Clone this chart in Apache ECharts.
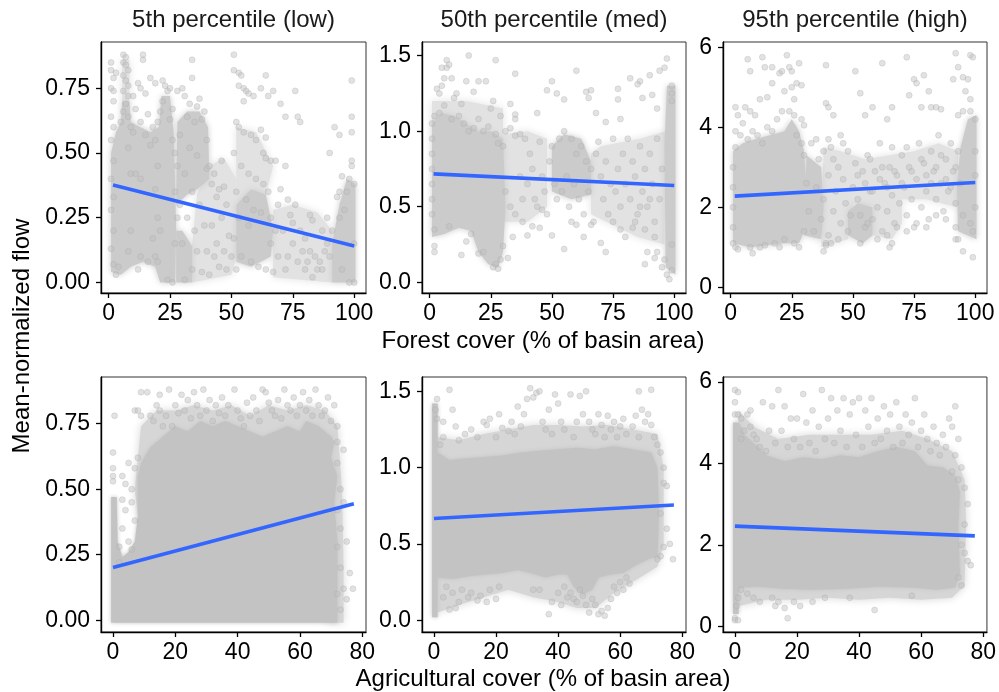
<!DOCTYPE html>
<html><head><meta charset="utf-8">
<script src="https://cdn.jsdelivr.net/npm/echarts@6/dist/echarts.min.js"></script>
<style>html,body{margin:0;padding:0;background:#fff}#c{width:999px;height:692px}</style>
</head><body><div id="c"></div>
<script>
// ---------- labels ----------
const panelTitles = ['5th percentile (low)', '50th percentile (med)', '95th percentile (high)'];
const yTitle = 'Mean-normalized flow';
const xTitleTop = 'Forest cover (% of basin area)';
const xTitleBottom = 'Agricultural cover (% of basin area)';
const xTicksTop = [0, 25, 50, 75, 100];
const xTicksBottom = [0, 20, 40, 60, 80];
const yTicksLow = [0, 0.25, 0.5, 0.75];
const yTicksMed = [0, 0.5, 1.0, 1.5];
const yTicksHigh = [0, 2, 4, 6];

// ---------- fitted lines (endpoints) ----------
const fitF5 = [[1.8, 0.376], [100, 0.141]];
const fitF50 = [[1.6, 0.717], [100, 0.640]];
const fitF95 = [[1.7, 2.28], [100, 2.62]];
const fitA5 = [[0, 0.201], [77.3, 0.444]];
const fitA50 = [[0, 0.667], [77.3, 0.755]];
const fitA95 = [[0, 2.46], [77.3, 2.22]];

// ---------- outlines of the overplotted point clouds (data units) ----------
const f5Dense = [
  [[1,0.04],[5,0.03],[9,0.06],[14,0.08],[19,0.06],[21,0.0],[27,0.0],[27.5,0.2],[27,0.4],[26.5,0.58],[26,0.62],[25,0.72],[21.5,0.72],[20.5,0.6],[17,0.58],[13,0.6],[9,0.62],[8.5,0.7],[5.5,0.7],[5,0.62],[3,0.58],[1,0.5]],
  [[27.5,0.3],[32,0.34],[36,0.36],[41,0.4],[40.5,0.6],[37,0.66],[32,0.66],[28,0.62]],
  [[27.5,0.0],[34,0.0],[34,0.14],[30,0.2],[27.5,0.2]],
  [[52,0.08],[58,0.06],[66,0.1],[67,0.2],[64,0.34],[58,0.36],[52,0.3]],
  [[91,0.0],[100.5,0.0],[100.5,0.38],[97,0.4],[94,0.3],[91,0.15]]
];
const f5Medium = [
  [[34,0.0],[50,0.03],[52,0.1],[52,0.4],[47,0.48],[41,0.45],[36,0.34],[34,0.14]],
  [[67,0.02],[91,0.0],[91,0.2],[85,0.27],[75,0.3],[67,0.28]],
  [[52,0.3],[58,0.36],[64,0.34],[67,0.45],[60,0.58],[52,0.6]],
  [[5.5,0.7],[8.5,0.7],[8.5,0.86],[5.5,0.86]]
];
const f50Dense = [
  [[1,0.3],[6,0.32],[12,0.36],[17,0.34],[20,0.2],[24,0.12],[28,0.1],[30,0.2],[31,0.5],[30,0.95],[25,1.0],[20,1.0],[15,1.05],[10,1.1],[5,1.12],[1,1.05]],
  [[50,0.6],[58,0.55],[66,0.58],[66,0.8],[62,0.95],[55,0.98],[50,0.9]],
  [[96.5,0.1],[100.5,0.05],[100.5,1.3],[97,1.3],[96,0.9]]
];
const f50Medium = [
  [[30,0.4],[40,0.4],[48,0.5],[48,0.95],[40,1.0],[30,0.98]],
  [[66,0.45],[85,0.3],[96,0.25],[96.5,1.0],[86,0.95],[70,0.9],[66,0.85]],
  [[1,1.05],[10,1.1],[20,1.0],[30,0.95],[30,1.15],[15,1.2],[1,1.2]]
];
const f95Dense = [
  [[1,1.1],[8,1.0],[15,1.05],[22,1.1],[28,1.1],[30,1.4],[31,2.5],[30,3.4],[28,3.9],[25,4.2],[22,3.9],[16,3.8],[10,3.7],[5,3.6],[1,3.4]],
  [[30,1.3],[37,1.2],[38,2.0],[37,3.0],[31,3.3]],
  [[48,1.3],[54,1.1],[58,1.3],[58,2.0],[52,2.1],[48,1.9]],
  [[93,1.4],[100.5,1.2],[100.5,4.3],[97,4.2],[94,3.5],[92.5,2.5]]
];
const f95Medium = [
  [[37,1.0],[48,1.2],[50,2.1],[60,2.0],[70,2.2],[80,2.2],[92.5,2.0],[93,3.4],[85,3.6],[75,3.4],[65,3.3],[55,3.2],[45,3.4],[38,3.5]],
  [[58,1.3],[66,1.2],[70,1.6],[70,2.2],[58,2.0]]
];
const a5Dense = [
  [[-0.6,-0.01],[72,-0.01],[72,0.3],[71,0.45],[72,0.55],[70,0.62],[71,0.68],[70,0.7],[66,0.74],[62,0.76],[60,0.72],[56,0.74],[52,0.72],[48,0.7],[44,0.72],[40,0.74],[36,0.76],[32,0.74],[28,0.76],[24,0.72],[20,0.74],[16,0.7],[12,0.66],[9,0.6],[8,0.55],[8,0.4],[7,0.3],[5,0.26],[3,0.24],[1.5,0.3],[1.2,0.47],[-0.6,0.47]]
];
const a5Medium = [
  [[7,0.5],[9,0.74],[14,0.8],[20,0.8],[26,0.82],[32,0.8],[38,0.82],[44,0.78],[50,0.82],[56,0.8],[62,0.82],[68,0.8],[72,0.74],[73.5,0.5],[74,0.2],[74,-0.01],[70,-0.01],[8,0.4]]
];
const a50Dense = [
  [[-0.6,0.02],[1.2,0.02],[1.2,0.28],[6,0.27],[12,0.29],[17,0.3],[22,0.31],[27,0.33],[31,0.31],[36,0.28],[40,0.3],[43,0.3],[45,0.22],[48,0.17],[51,0.2],[53,0.28],[57,0.3],[61,0.31],[65,0.36],[69,0.4],[72,0.42],[72.5,0.7],[72,1.0],[70,1.1],[64,1.12],[58,1.14],[52,1.12],[46,1.13],[40,1.12],[34,1.11],[28,1.1],[22,1.08],[16,1.07],[10,1.06],[5,1.05],[1.2,1.1],[1.2,1.42],[-0.6,1.42]]
];
const a50Medium = [
  [[1.2,0.05],[8,0.1],[16,0.15],[24,0.2],[32,0.15],[40,0.12],[46,0.08],[52,0.08],[58,0.18],[64,0.25],[72,0.35],[74,0.5],[74,1.0],[72,1.22],[64,1.25],[56,1.28],[48,1.27],[40,1.28],[32,1.28],[24,1.25],[16,1.22],[8,1.18],[1.2,1.2]]
];
const a95Dense = [
  [[-0.6,0.3],[1.2,0.3],[1.2,0.95],[8,0.97],[15,0.92],[25,0.9],[36,0.92],[46,0.97],[57,0.95],[65,0.9],[71,0.95],[72.5,1.3],[72,2.5],[72.5,3.3],[71,3.7],[67,3.9],[62,3.95],[58,4.3],[52,4.4],[46,4.3],[40,4.15],[34,4.2],[28,4.1],[22,4.15],[16,4.05],[10,4.2],[6,4.5],[3,4.7],[1.2,5.0],[-0.6,5.0]]
];
const a95Medium = [
  [[1.2,0.5],[10,0.65],[20,0.65],[30,0.7],[40,0.65],[50,0.7],[60,0.65],[70,0.7],[74,1.0],[74.5,2.5],[74,3.6],[70,4.3],[62,4.6],[54,4.8],[44,4.7],[34,4.7],[24,4.7],[14,4.6],[6,4.9],[1.2,5.3]]
];

// ---------- individual points ----------
const f5Pts = [[1,0.85],[1,0.82],[2,0.79],[1,0.75],[2,0.74],[3,0.81],[2,0.7],[1,0.64],[2,0.6],[1,0.55],[2,0.47],[1,0.4],[2,0.33],[1,0.28],[2,0.2],[1,0.13],[2,0.07],[3,0.03],[4,0.06],
[6,0.88],[7,0.87],[6,0.85],[7,0.84],[8,0.82],[6,0.8],[7,0.78],[8,0.76],[6,0.74],[8,0.72],[7,0.69],[6,0.66],[8,0.64],[5,0.62],[9,0.6],[8,0.12],[9,0.2],[9,0.42],[8,0.52],
[10,0.72],[12,0.77],[13,0.75],[14,0.88],[14,0.86],[15,0.73],[17,0.79],[19,0.77],[11,0.67],[16,0.65],[13,0.62],[18,0.6],[10,0.58],[15,0.57],[19,0.55],[12,0.05],[16,0.08],[19,0.1],[13,0.1],[18,0.17],[20,0.25],[19,0.36],[13,0.4],[11,0.42],[17,0.53],
[22,0.78],[23,0.76],[24,0.74],[25,0.75],[22,0.7],[21,0.66],[26,0.67],[20,0.62],[25,0.63],[26,0.55],[27,0.5],[27,0.35],[27,0.15],[20,0.08],[21,0.2],[20,0.45],[24,0.01],[26,0.0],
[28,0.74],[30,0.75],[31,0.72],[33,0.69],[34,0.86],[34,0.79],[36,0.68],[37,0.71],[39,0.66],[38,0.63],[32,0.64],[35,0.62],[40,0.55],[29,0.57],[33,0.52],[36,0.49],[40,0.44],[28,0.45],[31,0.42],[34,0.35],[37,0.3],[29,0.3],[32,0.25],[35,0.2],[39,0.22],[30,0.15],[36,0.12],[34,0.05],[38,0.04],[31,0.01],[40,0.12],[28,0.25],
[41,0.45],[43,0.42],[42,0.38],[45,0.36],[47,0.37],[44,0.33],[48,0.3],[46,0.25],[42,0.22],[49,0.18],[44,0.15],[47,0.12],[43,0.1],[45,0.06],[48,0.05],[41,0.03],[50,0.1],[46,0.47],
[51,0.88],[51,0.82],[53,0.81],[54,0.8],[53,0.76],[55,0.75],[56,0.74],[57,0.73],[55,0.7],[59,0.72],[62,0.75],[64,0.8],[65,0.72],[67,0.74],[70,0.69],[52,0.62],[53,0.6],[55,0.58],[58,0.57],[60,0.55],[62,0.59],[64,0.56],[63,0.5],[64,0.48],[66,0.47],[68,0.47],[51,0.5],[54,0.45],[57,0.42],[60,0.4],[63,0.38],[65,0.35],[52,0.35],[56,0.32],[59,0.28],[62,0.27],[66,0.25],[68,0.2],[53,0.25],[57,0.22],[51,0.17],[54,0.1],[58,0.08],[61,0.06],[64,0.05],[67,0.04],[69,0.1],[52,0.05],[66,0.15],[69,0.3],
[72,0.45],[70,0.36],[73,0.32],[76,0.74],[72,0.64],[77,0.64],[78,0.62],[74,0.26],[75,0.23],[78,0.2],[80,0.17],[82,0.12],[84,0.1],[86,0.08],[88,0.12],[85,0.05],[80,0.05],[77,0.08],[75,0.15],[73,0.1],[72,0.05],[82,0.26],[83,0.24],[87,0.2],[89,0.15],[90,0.5],[92,0.6],[94,0.57],[95,0.41],[94,0.35],[93,0.33],[79,0.12],[81,0.08],[83,0.02],[87,0.05],[90,0.1],[91,0.2],[89,0.25],[76,0.3],[71,0.2],
[99,0.78],[99,0.64],[99,0.58],[99,0.47],[99,0.45],[98,0.4],[100,0.38],[97,0.35],[96,0.28],[94,0.25],[100,0.15],[100,0.0],[98,0.0],[95,0.05]];

const f50Pts = [[3,1.28],[4,1.25],[6,1.35],[7,1.47],[7,1.42],[8,1.44],[9,1.35],[5,1.42],[5,1.3],[10,1.22],[11,1.25],[13,1.18],[15,1.33],[16,1.5],[18,1.26],[20,1.33],[23,1.33],[27,1.47],[26,1.2],[29,1.1],[25,1.15],[33,1.18],[35,1.11],[35,1.08],[35,1.38],[44,1.12],[48,1.27],[50,1.33],[52,1.25],[55,1.21],[60,1.4],[64,1.26],[66,1.27],[65,1.22],[68,1.12],[77,1.28],[77,1.21],[72,1.06],[78,1.08],[82,1.35],[86,1.33],[85,1.31],[87,1.22],[90,1.37],[91,1.24],[93,1.15],[94,1.4],[96,1.42],[97,1.48],[99,1.3],[99,1.25],[99,1.2],
[2,0.2],[2,0.24],[8,0.37],[13,0.18],[15,0.27],[17,0.32],[20,0.19],[22,0.2],[26,0.1],[27,0.12],[28,0.09],[29,0.15],[30,0.24],[32,0.16],[40,0.31],[42,0.37],[45,0.36],[50,0.31],[55,0.22],[60,0.38],[63,0.3],[70,0.26],[72,0.2],[80,0.3],[83,0.36],[88,0.12],[89,0.2],[92,0.16],[93,0.2],[95,0.1],[97,0.05],[98,0.02],[96,0.15],[99,0.08],[99,0.25],
[1,1.05],[2,1.1],[1,0.95],[1,0.85],[1,0.75],[1,0.65],[1,0.55],[1,0.45],[2,0.35],[4,1.12],[6,1.17],[9,1.08],[12,1.1],[14,1.05],[16,1.0],[18,1.02],[20,1.08],[22,1.0],[24,1.03],[27,0.98],[28,0.92],[30,0.9],[31,1.0],[33,1.02],[35,0.97],[37,0.98],[39,0.95],
[31,0.6],[33,0.5],[35,0.45],[37,0.7],[38,0.55],[40,0.65],[41,0.85],[42,0.75],[43,0.55],[44,0.5],[45,0.93],[46,0.7],[47,0.6],[48,0.45],[49,0.8],[50,0.9],[51,0.65],[52,0.55],[53,0.95],[54,0.6],[55,1.0],[56,0.7],[57,0.5],[58,0.95],[59,0.65],[60,0.85],[61,0.55],[62,0.9],[63,0.45],[64,0.8],[65,0.6],[66,0.75],[67,0.4],[68,0.85],[69,0.93],[70,0.7],[71,0.55],[72,0.8],[73,0.45],[74,0.65],[75,0.95],[76,0.6],[77,0.75],[78,0.5],[79,0.85],[80,0.65],[81,0.95],[82,0.55],[83,0.8],[84,0.7],[85,0.45],[86,0.9],[87,0.6],[88,0.75],[89,0.5],[90,0.85],[91,0.65],[92,0.4],[93,0.95],[94,0.55],[95,0.75],[92,0.3],[88,0.35],[90,0.55],[86,0.5],[84,0.4],[78,0.35],[75,0.4],[66,0.38],[58,0.4],[46,0.48],[38,0.4],[34,0.3]];

const f95Pts = [[2,4.5],[3,4.3],[6,4.5],[7,5.7],[8,5.4],[8,4.4],[10,4.3],[12,4.7],[13,5.75],[14,5.5],[15,4.75],[17,5.5],[17,5.1],[20,5.35],[21,5.4],[22,4.9],[23,5.8],[24,5.5],[25,5.4],[25,5.0],[26,4.7],[27,5.1],[28,5.6],[29,5.05],[24,4.4],[26,4.3],[29,4.2],[30,4.05],[39,5.55],[39,4.6],[40,4.5],[42,4.3],[40,3.7],[45,3.8],[51,5.4],[53,4.85],[55,4.3],[58,4.5],[62,5.6],[66,4.5],[64,4.2],[72,5.75],[73,4.8],[75,5.2],[76,5.1],[79,5.3],[78,4.5],[81,4.9],[82,4.5],[84,4.5],[86,4.45],[91,5.2],[92,5.85],[93,5.5],[95,5.25],[97,5.2],[98,5.8],[99,5.75],[96,4.9],[98,4.7],[98,4.4],[95,4.4],[93,4.3],
[30,3.3],[31,2.6],[32,1.9],[33,3.6],[34,1.4],[35,2.5],[36,3.2],[37,1.7],[38,2.2],[39,1.1],[40,2.8],[41,3.5],[42,1.9],[43,2.4],[44,3.0],[45,1.6],[46,2.7],[47,2.1],[48,3.4],[49,1.8],[50,2.5],[51,3.1],[52,2.2],[53,1.8],[54,2.9],[55,1.5],[56,3.3],[57,2.4],[58,1.7],[59,2.9],[60,2.0],[61,3.6],[62,1.4],[63,2.6],[64,1.9],[65,3.0],[66,2.3],[67,1.6],[68,2.8],[69,2.1],[70,3.3],[71,2.5],[72,1.8],[73,3.0],[74,2.2],[75,1.5],[76,2.7],[77,3.6],[78,2.0],[79,3.1],[80,2.4],[81,1.7],[82,3.4],[83,2.9],[84,2.2],[85,3.8],[86,2.6],[87,1.9],[88,3.2],[89,2.4],[90,3.6],[91,2.9],[92,2.1],[93,3.4],[94,2.6],[95,1.8],
[52,2.8],[55,2.6],[58,2.4],[61,2.7],[64,2.5],[67,2.9],[70,2.6],[74,2.9],[78,3.2],[80,2.8],[82,2.6],[84,3.0],[86,3.3],[88,2.7],[90,2.5],[92,3.0],[57,3.2],[62,3.0],[66,3.5],[72,3.5],[46,3.6],[42,3.2],[38,3.4],[35,3.7],[40,1.3],[44,1.2],[48,1.4],[53,1.1],[56,1.6],[60,1.2],[64,1.3],[68,1.5],[72,1.4],[76,1.6],[80,1.5],[84,1.8],[88,1.7],[92,1.5],
[1,1.1],[1,1.5],[1,2.0],[1,2.5],[1,3.0],[2,3.5],[2,3.9],[4,3.8],[5,4.1],[7,3.7],[9,3.9],[11,3.8],[13,3.6],[15,4.0],[17,3.9],[19,4.2],[21,4.4],[27,3.8],[29,3.6],[8,1.0],[14,1.05],[18,1.1],[22,1.2],[28,1.0],[30,1.4],
[2,1.0],[3,0.95],[9,0.85],[12,1.0],[20,1.0],[26,1.1],[38,0.9],[39,1.05],[41,1.1],[65,1.0],[66,1.1],[92,1.2],[93,1.2],[95,0.9],[99,0.75],[99,1.4],[98,1.6],[100,2.0],[100,2.8],[100,3.4],[100,4.2]];

const a5Pts = [[0,0.53],[0,0.55],[0,0.58],[0,0.64],[0.5,0.78],
[2,0.28],[3,0.35],[4,0.42],[5,0.3],[6,0.5],[3,0.55],[5,0.6],[7,0.38],[6,0.45],[4,0.52],[7,0.58],[8,0.62],[6,0.27],[2,0.22],[3,0.46],
[7,0.8],[8,0.8],[9,0.87],[9,0.78],[11,0.87],[12,0.78],[13,0.76],[14,0.82],[15,0.8],[15,0.86],[16,0.74],[17,0.78],[18,0.88],[19,0.74],[20,0.82],[21,0.79],[22,0.86],[23,0.8],[24,0.84],[25,0.77],[26,0.87],[27,0.82],[28,0.78],[29,0.88],[30,0.8],[31,0.84],[32,0.76],[33,0.82],[34,0.79],[35,0.85],[36,0.78],[37,0.82],[39,0.88],[40,0.8],[41,0.77],[42,0.74],[43,0.83],[44,0.78],[45,0.85],[46,0.8],[47,0.76],[48,0.88],[49,0.87],[50,0.83],[51,0.8],[52,0.78],[53,0.84],[54,0.77],[55,0.88],[56,0.82],[57,0.8],[58,0.85],[59,0.78],[60,0.82],[61,0.87],[62,0.8],[63,0.84],[64,0.78],[65,0.88],[66,0.82],[67,0.78],[68,0.8],[69,0.85],[70,0.76],[71,0.82],[72,0.74],
[72,0.6],[73,0.5],[72,0.42],[73,0.35],[72,0.28],[73,0.2],[74,0.12],[72,0.1],[73,0.04],[75,0.3],[74,0.65],[76,0.18],[77,0.12],[75,0.08],[74,0.45],[72,0.68]];

const a50Pts = [[0.5,1.38],[1,1.32],[1,1.45],[2,1.15],[3,1.2],[3,1.3],
[5,1.51],[6,1.38],[7,1.27],[8,1.18],[10,1.22],[12,1.25],[14,1.2],[16,1.3],[17,1.28],[18,1.32],[20,1.2],[21,1.35],[22,1.26],[24,1.24],[25,1.3],[26,1.22],[27,1.4],[28,1.27],[29,1.35],[30,1.45],[31,1.52],[32,1.46],[33,1.49],[34,1.5],[35,1.3],[36,1.25],[37,1.38],[38,1.22],[39,1.48],[40,1.42],[41,1.3],[42,1.25],[44,1.48],[45,1.2],[46,1.3],[47,1.47],[48,1.35],[49,1.5],[50,1.3],[51,1.25],[52,1.22],[53,1.35],[54,1.28],[55,1.2],[56,1.34],[57,1.25],[58,1.3],[59,1.2],[60,1.27],[61,1.32],[62,1.22],[64,1.27],[65,1.34],[66,1.2],[67,1.38],[68,1.3],[69,1.35],[70,1.28],[71,1.2],[72,1.15],[66,1.5],[70,1.51],[73,1.1],[74,0.9],[75,0.88],[76,0.5],[77,0.4],[74,0.48],[75,0.6],[73,0.7],[74,1.0],[73,0.42],[72,0.4],
[3,0.15],[4,0.22],[5,0.07],[6,0.18],[7,0.08],[8,0.12],[9,0.2],[11,0.15],[12,0.18],[14,0.13],[15,0.16],[17,0.12],[18,0.2],[20,0.14],[21,0.22],[32,0.2],[34,0.2],[37,0.04],[38,0.12],[40,0.18],[41,0.1],[42,0.22],[43,0.15],[44,0.18],[45,0.14],[46,0.12],[47,0.2],[48,0.16],[49,0.1],[50,0.05],[51,0.14],[52,0.1],[53,0.04],[54,0.06],[55,0.03],[56,0.08],[57,0.14],[58,0.22],[59,0.18],[60,0.25],[61,0.2],[62,0.28],[63,0.24]];

const a95Pts = [[0,0.2],[0,0.15],[1,0.15],[0.5,0.5],[1,0.7],[0,5.2],[0,5.5],[0,5.8],[1,5.75],[1,5.2],[2,4.6],[3,4.8],[2,5.1],[4,5.2],[5,5.3],[5,4.9],[6,4.7],[7,4.6],
[8,4.4],[9,5.5],[10,4.3],[11,4.8],[12,5.4],[13,4.5],[14,5.8],[15,4.8],[16,5.4],[17,4.4],[18,5.1],[19,4.6],[20,5.1],[21,4.4],[22,5.7],[23,5.0],[24,4.5],[25,5.3],[26,4.3],[27,4.9],[28,5.8],[29,4.6],[30,5.1],[31,5.6],[32,4.5],[33,5.3],[34,4.8],[35,5.6],[36,4.4],[37,5.2],[38,5.5],[39,4.7],[40,5.6],[41,4.4],[42,5.3],[43,4.9],[44,5.6],[45,4.5],[46,5.1],[47,4.6],[48,5.4],[49,4.8],[50,5.2],[51,4.4],[52,5.5],[53,4.9],[54,4.5],[55,5.2],[56,4.7],[57,5.0],[58,5.6],[59,4.4],[60,4.8],[61,5.2],[62,4.6],[63,4.3],[64,4.9],[65,4.5],[66,4.2],[67,4.7],[68,4.4],[69,5.1],[70,4.9],[71,5.4],[72,4.6],[73,3.9],[74,3.4],[75,3.0],[74,2.5],[75,1.6],[76,1.5],[73,2.0],[74,1.8],[72,1.2],[73,1.0],[71,4.2],[70,3.8],[72,3.6],
[2,0.9],[4,0.8],[6,0.7],[8,0.6],[12,0.7],[13,0.5],[14,0.6],[16,0.45],[17,0.2],[19,0.6],[21,0.5],[25,0.6],[29,0.7],[37,0.7],[45,0.4],[57,0.75]];

// ---------- assembly ----------
const FONT = '"Liberation Sans", Arial, Helvetica, sans-serif';
const panels = [
  {grid:{left:101, top:42, width:265, height:251}, x:[-3.1,104.8], y:[-0.041,0.929], xt:xTicksTop, yt:yTicksLow, dec:2, dense:f5Dense, medium:f5Medium, pts:f5Pts, fit:fitF5, top:true},
  {grid:{left:422, top:42, width:264, height:251}, x:[-3.1,104.8], y:[-0.071,1.59], xt:xTicksTop, yt:yTicksMed, dec:1, dense:f50Dense, medium:f50Medium, pts:f50Pts, fit:fitF50, top:true},
  {grid:{left:723, top:42, width:264, height:251}, x:[-3.1,104.8], y:[-0.14,6.13], xt:xTicksTop, yt:yTicksHigh, dec:0, dense:f95Dense, medium:f95Medium, pts:f95Pts, fit:fitF95, top:true},
  {grid:{left:101, top:377, width:265, height:255}, x:[-3.85,81.2], y:[-0.045,0.928], xt:xTicksBottom, yt:yTicksLow, dec:2, dense:a5Dense, medium:a5Medium, pts:a5Pts, fit:fitA5, top:false},
  {grid:{left:422, top:377, width:264, height:255}, x:[-3.85,81.2], y:[-0.077,1.594], xt:xTicksBottom, yt:yTicksMed, dec:1, dense:a50Dense, medium:a50Medium, pts:a50Pts, fit:fitA50, top:false},
  {grid:{left:723, top:377, width:264, height:255}, x:[-3.85,81.2], y:[-0.14,6.12], xt:xTicksBottom, yt:yTicksHigh, dec:0, dense:a95Dense, medium:a95Medium, pts:a95Pts, fit:fitA95, top:false}
];

function cloudSeries(i, outline, fill, z, blur) {
  return {
    type:'custom', xAxisIndex:i, yAxisIndex:i, data:outline, silent:true, z, clip:true,
    encode:{x:0, y:1},
    renderItem:(params, api) => {
      if (params.dataIndex !== 0) return null;
      const pts = outline.map(v => api.coord(v));
      return {type:'polygon', shape:{points:pts}, style:{fill, stroke:null, lineWidth:0, shadowBlur:blur, shadowColor:fill}};
    }
  };
}

const grid = [], xAxis = [], yAxis = [], series = [];
panels.forEach((p, i) => {
  grid.push(Object.assign({show:true, borderColor:'#333', borderWidth:1, backgroundColor:'#fff'}, p.grid));
  const axisCommon = {
    type:'value', gridIndex:i,
    axisLine:{show:true, onZero:false, lineStyle:{color:'#000', width:1.4}},
    axisTick:{show:true, length:5, lineStyle:{color:'#000', width:1.3}},
    splitLine:{show:false},
    axisLabel:{color:'#000', fontSize:23, fontFamily:FONT}
  };
  xAxis.push(Object.assign({}, axisCommon, {
    min:p.x[0], max:p.x[1],
    axisTick:Object.assign({}, axisCommon.axisTick, {customValues:p.xt}),
    axisLabel:Object.assign({}, axisCommon.axisLabel, {customValues:p.xt, margin:9, formatter:v => String(v)})
  }));
  yAxis.push(Object.assign({}, axisCommon, {
    min:p.y[0], max:p.y[1],
    axisTick:Object.assign({}, axisCommon.axisTick, {customValues:p.yt}),
    axisLabel:Object.assign({}, axisCommon.axisLabel, {customValues:p.yt, margin:11, formatter:v => Number(v).toFixed(p.dec)})
  }));
  p.medium.forEach(o => series.push(cloudSeries(i, o, p.top ? '#E2E2E2' : '#D6D6D6', 1, 8)));
  p.dense.forEach(o => series.push(cloudSeries(i, o, p.top ? '#CBCBCB' : '#C3C3C3', 2, p.top ? 6 : 4)));
  series.push({type:'scatter', xAxisIndex:i, yAxisIndex:i, data:p.pts, symbolSize:6, silent:true,
    itemStyle:{color:'rgba(190,190,190,0.45)', borderColor:'rgba(165,165,165,0.35)', borderWidth:0.8, opacity:1}, z:3});
  series.push({type:'line', xAxisIndex:i, yAxisIndex:i, data:p.fit, symbol:'none', silent:true,
    lineStyle:{color:'#3366FF', width:3.6}, z:5});
});

const titleCenters = [233.5, 554, 855];
const title = panelTitles.map((t, i) => ({
  text:t, left:titleCenters[i], top:8, textAlign:'center', padding:0,
  textStyle:{fontSize:24, fontWeight:'normal', color:'#1a1a1a', fontFamily:FONT}
}));

const chart = echarts.init(document.getElementById('c'), null, {renderer:'canvas'});
chart.setOption({
  animation:false, backgroundColor:'#fff',
  title, grid, xAxis, yAxis, series,
  graphic:[
    {type:'text', x:22, y:336, rotation:Math.PI/2, style:{text:yTitle, fontSize:24, fontFamily:FONT, fill:'#000', textAlign:'center', textVerticalAlign:'middle'}},
    {type:'text', x:543, y:341, style:{text:xTitleTop, fontSize:24, fontFamily:FONT, fill:'#000', textAlign:'center', textVerticalAlign:'middle'}},
    {type:'text', x:543, y:679, style:{text:xTitleBottom, fontSize:24, fontFamily:FONT, fill:'#000', textAlign:'center', textVerticalAlign:'middle'}}
  ]
});
</script></body></html>
